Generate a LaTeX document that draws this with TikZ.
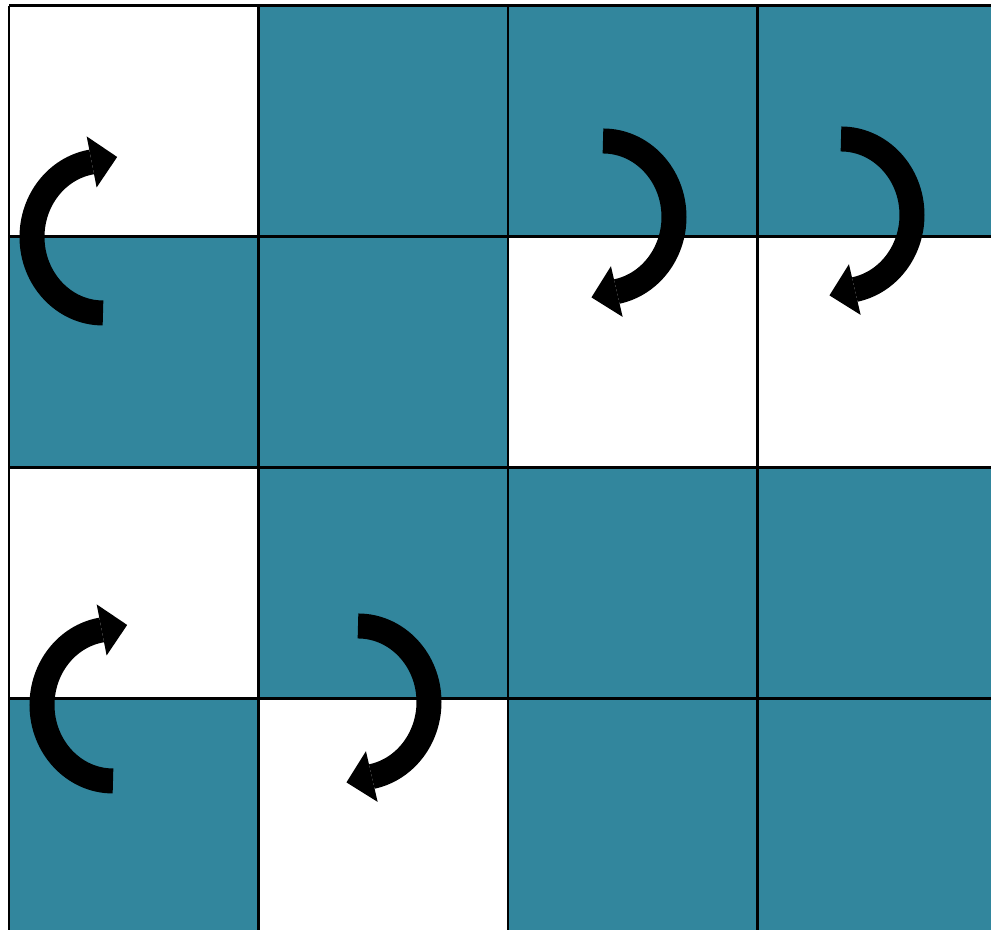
\documentclass[tikz,border=0pt]{standalone}
\usepackage{xcolor}
\usepackage{tikz}
\usetikzlibrary{arrows.meta}
\definecolor{azulcelda}{RGB}{50,134,157}

\begin{document}
\begin{tikzpicture}[x=0.1mm, y=0.1mm, flecha/.style={line width=2.5mm, -{Triangle[length=2.6mm, width=5.2mm, line width=0pt]}}]
  \useasboundingbox (0,0) rectangle (991,930);
  \clip (0,0) rectangle (991,930);
  % cells (column/row/colour), rows counted from the top
  \foreach \c/\r/\f in {0/0/white, 1/0/azulcelda, 2/0/azulcelda, 3/0/azulcelda, 0/1/azulcelda, 1/1/azulcelda, 2/1/white, 3/1/white, 0/2/white, 1/2/azulcelda, 2/2/azulcelda, 3/2/azulcelda, 0/3/azulcelda, 1/3/white, 2/3/azulcelda, 3/3/azulcelda} { \fill[\f] ({9+249.5*\c},{924-231*(\r+1)}) rectangle ++(249.5,231); }
  \foreach \c in {0,...,4} { \draw[line width=0.3mm] ({9+249.5*\c},924) -- ({9+249.5*\c},-20); }
  \foreach \r in {0,...,3} { \draw[line width=0.3mm] (9,{924-231*\r}) -- (1020,{924-231*\r}); }
  % rotation arrows: centre x/centre y/start/end/tip direction
  \foreach \x/\y/\a/\b/\d in {103/693/270/100/11, 113/225/270/100/11, 603/713/90/-78/-167, 841/715/90/-78/-167, 358/228/90/-78/-167} { \draw[flecha] (\x,\y) ++(\a:71 and 76) arc[start angle=\a, end angle=\b, x radius=71, y radius=76] -- ++(\d:27); }
\end{tikzpicture}
\end{document}
